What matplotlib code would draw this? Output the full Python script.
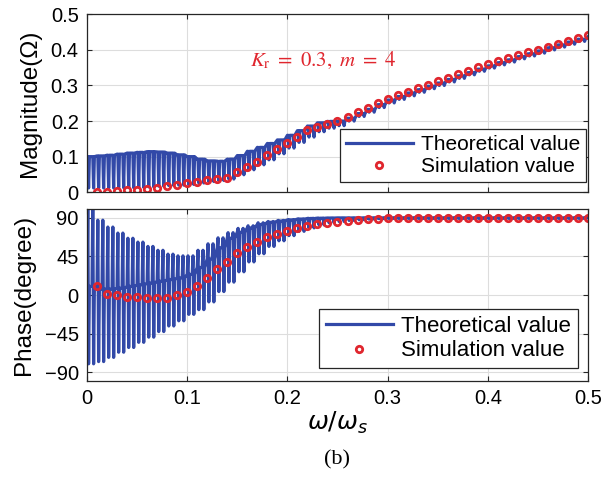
import numpy as np
import matplotlib
matplotlib.use('Agg')
import matplotlib.pyplot as plt

# envelope grid for the theoretical curve (two oscillation cycles per step)
freq_grid = [round(0.01 * i, 2) for i in range(51)]

# magnitude: line rides on the upper level and dips down to the trough
mag_peak = [0.100, 0.102, 0.104, 0.107, 0.110, 0.112, 0.114, 0.113, 0.110, 0.105,
            0.100, 0.093, 0.088, 0.087, 0.093, 0.103, 0.115, 0.126, 0.137, 0.147,
            0.160, 0.173, 0.186, 0.195, 0.199, 0.200,
            0.208, 0.221, 0.233, 0.246, 0.259, 0.269, 0.279, 0.288, 0.298, 0.307,
            0.317, 0.327, 0.336, 0.346, 0.355, 0.364, 0.372, 0.381, 0.389, 0.397,
            0.406, 0.414, 0.422, 0.430, 0.437]
mag_trough = [0.012, 0.012, 0.012, 0.013, 0.013, 0.014, 0.015, 0.017, 0.019, 0.020,
              0.022, 0.026, 0.030, 0.033, 0.037, 0.049, 0.063, 0.077, 0.091, 0.108,
              0.124, 0.140, 0.155, 0.170, 0.180, 0.187,
              0.200, 0.213, 0.225, 0.238, 0.251, 0.261, 0.271, 0.281, 0.291, 0.300,
              0.310, 0.320, 0.330, 0.340, 0.349, 0.358, 0.366, 0.375, 0.383, 0.391,
              0.400, 0.408, 0.416, 0.424, 0.432]

# phase: line rides on a middle level with spikes up and down
ph_peak = [105, 87, 79, 72, 66, 61.5, 56.5, 52, 47.5, 45.5,
           45.5, 52, 59.5, 66.5, 72.5, 77.5, 80.5, 84, 85.5, 86.8,
           87.7, 88.6, 89.2, 89.5, 89.6, 89.7,
           89.8, 89.8, 89.8, 89.8, 89.8, 89.8, 89.8, 89.8, 89.8, 89.8,
           89.8, 89.8, 89.8, 89.8, 89.8, 89.8, 89.8, 89.8, 89.8, 89.8,
           89.8, 89.8, 89.8, 89.8, 89.8]
ph_mid = [10, 7, 7, 8, 10, 12, 14, 16, 18, 20,
          24, 32, 42, 55, 66, 73, 78, 82, 84.5, 86,
          87.3, 88.3, 89, 89.3, 89.5, 89.6,
          89.6, 89.6, 89.6, 89.6, 89.6, 89.6, 89.6, 89.6, 89.6, 89.6,
          89.6, 89.6, 89.6, 89.6, 89.6, 89.6, 89.6, 89.6, 89.6, 89.6,
          89.6, 89.6, 89.6, 89.6, 89.6]
ph_trough = [-80, -77.4, -72.5, -66.5, -61, -55, -49, -42.5, -36, -30,
             -22.5, -17, -8, 4, 15, 27, 38.5, 48, 56.5, 63,
             69, 74, 78, 81.5, 84, 85.5, 86.7, 87.5, 88.2, 88.7,
             89.0, 89.0, 89.0, 89.0, 89.0, 89.0, 89.0, 89.0, 89.0, 89.0,
             89.0, 89.0, 89.0, 89.0, 89.0, 89.0, 89.0, 89.0, 89.0, 89.0, 89.0]

# simulation points
sim_freq = [round(0.01 * i, 2) for i in range(1, 51)]
mag_sim = [0.001, 0.001, 0.004, 0.007, 0.006, 0.010, 0.011, 0.017, 0.021, 0.025,
           0.028, 0.034, 0.037, 0.041, 0.056, 0.071, 0.086, 0.104, 0.122, 0.139,
           0.155, 0.174, 0.184, 0.192, 0.200, 0.212, 0.225, 0.237, 0.250, 0.262,
           0.272, 0.282, 0.292, 0.302, 0.312, 0.322, 0.332, 0.342, 0.352, 0.361,
           0.369, 0.377, 0.385, 0.393, 0.401, 0.409, 0.417, 0.425, 0.433, 0.441]
ph_sim = [10.8, 1.2, -0.4, -1.9, -2.7, -3.1, -3.4, -3.1, -0.4, 3.5,
          10.8, 20, 29.8, 38.7, 48.4, 55.7, 62, 67, 70.5, 74.3,
          77.4, 79.7, 82, 83.5, 84.5, 86, 87.2, 88, 88.5, 89,
          89.3, 89.3, 89.3, 89.3, 89.3, 89.3, 89.3, 89.3, 89.3, 89.3,
          89.3, 89.3, 89.3, 89.3, 89.3, 89.3, 89.3, 89.3, 89.3, 89.3]

blue = '#3249A8'
red = '#E0262E'
edge = '#262626'
grid_c = '#DDDDDD'


def spikes(xs, mid, peaks, troughs):
    # two narrow up/down excursions from the mid level inside each grid step
    px, py = [], []
    for i in range(len(xs) - 1):
        x0 = xs[i]
        half = (xs[i + 1] - x0) / 2
        a = half * 0.16
        for c in range(2):
            xc = x0 + c * half
            px += [xc, xc + a, xc + 2 * a, xc + 3 * a]
            py += [mid[i], peaks[i], troughs[i], mid[i]]
    px.append(xs[-1])
    py.append(mid[-1])
    return px, py


plt.rcParams['font.family'] = ['Liberation Sans', 'DejaVu Sans']

fig = plt.figure(figsize=(6.13, 4.82), dpi=100)
ax1 = fig.add_axes([0.1419, 0.6012, 0.8173, 0.3691])
ax2 = fig.add_axes([0.1419, 0.2095, 0.8173, 0.3569])


def style(ax):
    ax.grid(True, color=grid_c, lw=0.8)
    ax.set_axisbelow(True)
    for s in ax.spines.values():
        s.set_color(edge)
        s.set_linewidth(0.9)
    ax.tick_params(direction='in', top=True, right=True, length=3.5,
                   width=0.8, color=edge, labelsize=14.5, pad=6)


tx, ty = spikes(freq_grid, mag_peak, mag_peak, mag_trough)
ax1.plot(tx, ty, color=blue, lw=2.3, label='Theoretical value')
ax1.plot(sim_freq, mag_sim, 'o', ms=4.6, mfc='none', mec=red, mew=2.0,
         label='Simulation value')
ax1.set_xlim(0, 0.5)
ax1.set_ylim(0, 0.5)
ax1.set_xticks(np.arange(0, 0.51, 0.1))
ax1.set_yticks([0, 0.1, 0.2, 0.3, 0.4, 0.5])
ax1.set_yticklabels(['0', '0.1', '0.2', '0.3', '0.4', '0.5'])
ax1.tick_params(labelbottom=False)
style(ax1)
ax1.set_ylabel('Magnitude(Ω)', fontsize=17.5, labelpad=7)
ax1.text(0.163, 0.37, r'$K_\mathrm{r}\ =\ 0.3,\ m\ =\ 4$', color=red,
         fontsize=15, ha='left', va='center', math_fontfamily='stix')
leg1 = ax1.legend(loc='lower right', bbox_to_anchor=(0.997, 0.055), fontsize=15,
                  handlelength=3.2, numpoints=1, fancybox=False, framealpha=1,
                  edgecolor=edge, borderpad=0.3, labelspacing=0.15,
                  handletextpad=0.4, borderaxespad=0)
leg1.get_frame().set_linewidth(0.9)

tx, ty = spikes(freq_grid, ph_mid, ph_peak, ph_trough)
ax2.plot(tx, ty, color=blue, lw=2.3, label='Theoretical value')
ax2.plot(sim_freq, ph_sim, 'o', ms=4.6, mfc='none', mec=red, mew=2.0,
         label='Simulation value')
ax2.set_xlim(0, 0.5)
ax2.set_ylim(-100, 100)
ax2.set_xticks(np.arange(0, 0.51, 0.1))
ax2.set_xticklabels(['0', '0.1', '0.2', '0.3', '0.4', '0.5'])
ax2.set_yticks([-90, -45, 0, 45, 90])
style(ax2)
ax2.set_ylabel('Phase(degree)', fontsize=17.5, labelpad=7)
ax2.set_xlabel(r'$\omega/\omega_s$', fontsize=18, labelpad=1,
               math_fontfamily='dejavusans')
leg2 = ax2.legend(loc='lower right', bbox_to_anchor=(0.98, 0.075), fontsize=16,
                  handlelength=3.0, numpoints=1, fancybox=False, framealpha=1,
                  edgecolor=edge, borderpad=0.3, labelspacing=0.15,
                  handletextpad=0.4, borderaxespad=0)
leg2.get_frame().set_linewidth(0.9)

fig.text(0.549, 0.045, '(b)', fontsize=16, ha='center', va='center',
         family='Liberation Serif')

fig.savefig('out.png', dpi=100)
